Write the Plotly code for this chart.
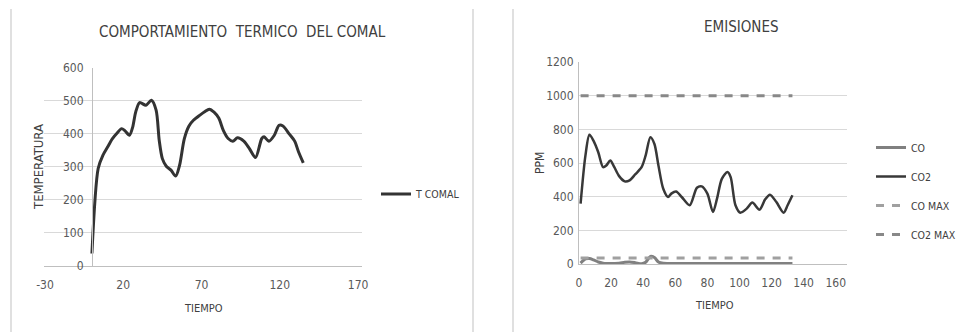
import plotly.graph_objects as go

# ---- Temperature of the comal (left chart) ----
tiempo_comal = [0, 4, 7, 10, 13, 16, 19, 21, 24, 26, 28, 30.5, 34.5, 38, 41, 43, 45, 47.5,
                50.5, 53.5, 56, 59, 62, 65, 69, 72, 75, 78, 81, 84, 87, 90, 93, 97, 100.5,
                104.5, 108.5, 110, 113, 116.5, 119.5, 122, 126, 129.5, 132, 135]
t_comal = [37, 295, 335, 360, 385, 402, 416, 410, 396, 420, 467, 495, 487, 502, 472, 380,
           325, 302, 290, 272, 305, 385, 424, 442, 457, 467, 475, 466, 448, 410, 386, 378,
           388, 378, 356, 328, 386, 391, 378, 396, 426, 424, 400, 378, 345, 312]
ticks_comal_x = [-30, 20, 70, 120, 170]
labels_comal_x = ["-30", "20", "70", "120", "170"]
ticks_comal_y = [0, 100, 200, 300, 400, 500, 600]

# ---- Emissions (right chart) ----
tiempo_em = [1, 4, 6.5, 9, 12, 15, 17, 19.5, 22, 25, 28.5, 31.5, 35, 39, 41.5, 44.5, 47,
             49.5, 52.5, 55.5, 57.5, 60.5, 64, 69, 73.5, 76.5, 80, 83.5, 86, 89, 92.5, 94.5,
             97.5, 100.5, 104.5, 108, 112.5, 116, 119, 123, 127.5, 130, 133]
co2 = [359, 644, 768, 733, 664, 575, 585, 615, 575, 522, 491, 497, 532, 575, 644, 753, 713,
       585, 447, 398, 418, 431, 398, 349, 453, 461, 418, 309, 388, 506, 546, 516, 349, 305,
       329, 365, 323, 384, 412, 368, 305, 349, 408]
co = [5, 30, 33, 25, 12, 5, 3, 3, 3, 4, 10, 12, 8, 1, 10, 45, 38, 12, 4, 3, 3, 3, 3, 3, 3,
      3, 3, 3, 3, 3, 3, 3, 3, 3, 3, 3, 3, 3, 3, 3, 3, 3, 3]
co_max = 35
co2_max = 1000
ticks_em_x = [0, 20, 40, 60, 80, 100, 120, 140, 160]
ticks_em_y = [0, 200, 400, 600, 800, 1000, 1200]

W, H = 956, 332
FONT = "Liberation Sans Narrow, DejaVu Sans Condensed, Arial Narrow, sans-serif"
TXT = "#404040"
TICK = "#595959"
GRID = "#d9d9d9"
AXL = "#bfbfbf"


def px(x):
    return x / W


def py(y):
    return 1 - y / H


fig = go.Figure()

fig.add_trace(go.Scatter(
    x=tiempo_comal, y=t_comal, name="T COMAL", mode="lines",
    line=dict(color="#333333", width=3, shape="spline", smoothing=0.8),
    xaxis="x", yaxis="y", legend="legend"))

fig.add_trace(go.Scatter(
    x=tiempo_em, y=co, name="CO", mode="lines",
    line=dict(color="#808080", width=3, shape="spline", smoothing=0.8),
    xaxis="x2", yaxis="y2", legend="legend2", legendgroup="a"))
fig.add_trace(go.Scatter(
    x=tiempo_em, y=co2, name="CO2", mode="lines",
    line=dict(color="#383838", width=2.5, shape="spline", smoothing=0.8),
    xaxis="x2", yaxis="y2", legend="legend2", legendgroup="b"))
fig.add_trace(go.Scatter(
    x=[tiempo_em[0], tiempo_em[-1]], y=[co_max, co_max], name="CO MAX", mode="lines",
    line=dict(color="#a0a0a0", width=3, dash="8px,8px"),
    xaxis="x2", yaxis="y2", legend="legend2", legendgroup="c"))
fig.add_trace(go.Scatter(
    x=[tiempo_em[0], tiempo_em[-1]], y=[co2_max, co2_max], name="CO2 MAX", mode="lines",
    line=dict(color="#888888", width=3, dash="8px,8px"),
    xaxis="x2", yaxis="y2", legend="legend2", legendgroup="d"))

tickfont = dict(family=FONT, size=12, color=TICK)

fig.update_layout(
    width=W, height=H,
    margin=dict(l=0, r=0, t=0, b=0, autoexpand=False),
    paper_bgcolor="white", plot_bgcolor="white",
    font=dict(family=FONT, color=TXT),
    xaxis=dict(domain=[px(44), px(362)], range=[-30.6, 172.5], tickvals=ticks_comal_x,
               ticktext=labels_comal_x,
               showgrid=False, zeroline=False, showline=True, linecolor=AXL, linewidth=1,
               ticks="", tickfont=tickfont, ticklabelstandoff=8, anchor="y",
               automargin=False),
    yaxis=dict(domain=[py(265.7), py(68)], range=[0, 600], tickvals=ticks_comal_y,
               showgrid=True, gridcolor=GRID, gridwidth=1, zeroline=False,
               showline=True, linecolor=AXL, linewidth=1, ticks="", tickfont=tickfont,
               anchor="free", position=px(92), ticklabelstandoff=6, automargin=False),
    xaxis2=dict(domain=[px(579), px(847)], range=[0, 167], tickvals=ticks_em_x,
                showgrid=False, zeroline=False, showline=True, linecolor=AXL, linewidth=1,
                ticks="", tickfont=tickfont, ticklabelstandoff=8, anchor="y2",
                automargin=False),
    yaxis2=dict(domain=[py(264), py(62)], range=[0, 1200], tickvals=ticks_em_y,
                showgrid=True, gridcolor=GRID, gridwidth=1, zeroline=False,
                showline=True, linecolor=AXL, linewidth=1, ticks="", tickfont=tickfont,
                anchor="x2", ticklabelstandoff=2, automargin=False),
    legend=dict(x=px(376), y=py(194), xanchor="left", yanchor="middle",
                bgcolor="rgba(0,0,0,0)", font=dict(family=FONT, size=10.5, color=TXT)),
    legend2=dict(x=px(871), y=py(191), xanchor="left", yanchor="middle",
                 bgcolor="rgba(0,0,0,0)", tracegroupgap=10,
                 font=dict(family=FONT, size=10.5, color=TXT)),
    showlegend=True,
)

annotations = [
    dict(text="COMPORTAMIENTO  TERMICO  DEL COMAL", x=px(242), y=py(32), font=dict(size=15)),
    dict(text="EMISIONES", x=px(741), y=py(27), font=dict(size=15)),
    dict(text="TEMPERATURA", x=px(38), y=py(167), textangle=-90, font=dict(size=13)),
    dict(text="TIEMPO", x=px(203), y=py(308), font=dict(size=11)),
    dict(text="PPM", x=px(540), y=py(163), textangle=-90, font=dict(size=12)),
    dict(text="TIEMPO", x=px(714), y=py(305), font=dict(size=11)),
]
for a in annotations:
    a.update(xref="paper", yref="paper", showarrow=False, xanchor="center", yanchor="middle")
    a["font"].update(family=FONT, color=TXT)
fig.update_layout(annotations=annotations)

# light frame edges of the two chart areas
for xb in (11, 473, 513):
    fig.add_shape(type="line", xref="paper", yref="paper", x0=px(xb), x1=px(xb),
                  y0=0, y1=py(9), line=dict(color="#d6d6d6", width=1.5))

fig.write_html("out.html")
